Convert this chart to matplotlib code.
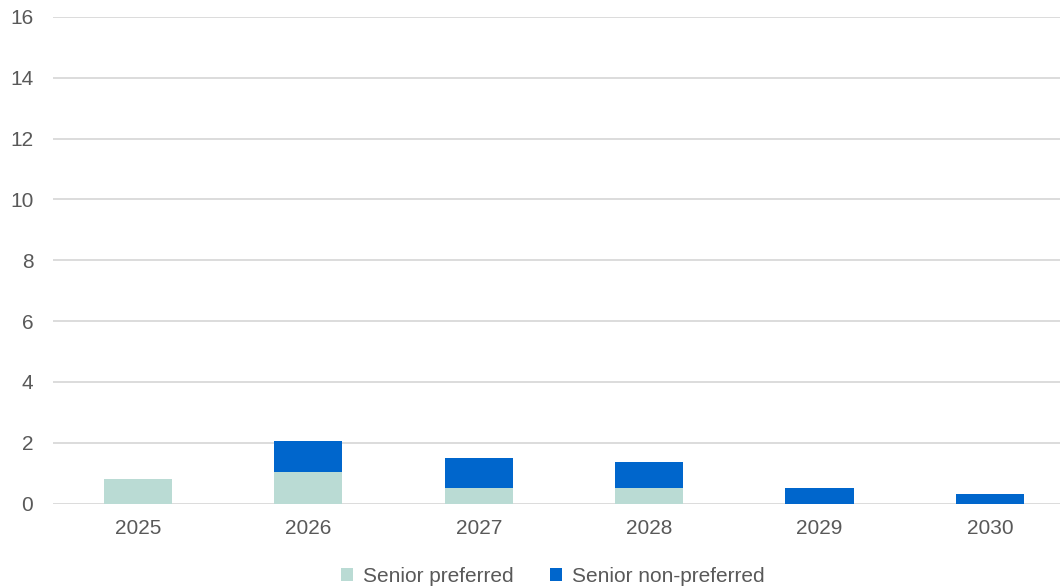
import matplotlib
matplotlib.use("Agg")
import matplotlib.pyplot as plt
import numpy as np

years = ["2025", "2026", "2027", "2028", "2029", "2030"]
senior_preferred = [0.80, 1.05, 0.50, 0.50, 0.0, 0.0]
senior_non_preferred = [0.0, 1.00, 1.00, 0.86, 0.50, 0.31]

plt.rcParams['font.family'] = ['Liberation Sans', 'DejaVu Sans']

fig = plt.figure(figsize=(10.6, 5.87), dpi=100)
left_px, right_px = 52.8, 1075.0
ax = fig.add_axes([left_px/1060, 1 - 503.5/587, (right_px - left_px)/1060, (503.5 - 17)/587])

x = np.arange(len(years))
c1 = "#BADBD4"
c2 = "#0066CC"
ax.bar(x, senior_preferred, width=0.4, color=c1, label="Senior preferred", zorder=3)
ax.bar(x, senior_non_preferred, width=0.4, bottom=senior_preferred, color=c2,
       label="Senior non-preferred", zorder=3)

ax.set_ylim(0, 16)
ax.set_xlim(-0.5, len(years) - 0.5)
ax.set_yticks(range(0, 17, 2))
ax.set_xticks(x)
ax.set_xticklabels(years)
ax.grid(axis='y', color='#D9D9D9', linewidth=1.3, zorder=0)
for s in ax.spines.values():
    s.set_visible(False)
ax.tick_params(axis='both', length=0, labelsize=15, labelcolor='#595959')
ax.tick_params(axis='y', pad=14)
ax.tick_params(axis='x', pad=11)

leg = fig.legend(loc='center', bbox_to_anchor=(553/1060, 1 - 576/587), ncol=2, frameon=False,
                 fontsize=15, handlelength=0.58, handleheight=0.58, columnspacing=1.75,
                 handletextpad=0.48, borderpad=0, borderaxespad=0)
for t in leg.get_texts():
    t.set_color('#595959')

fig.savefig("out.png", dpi=100)
